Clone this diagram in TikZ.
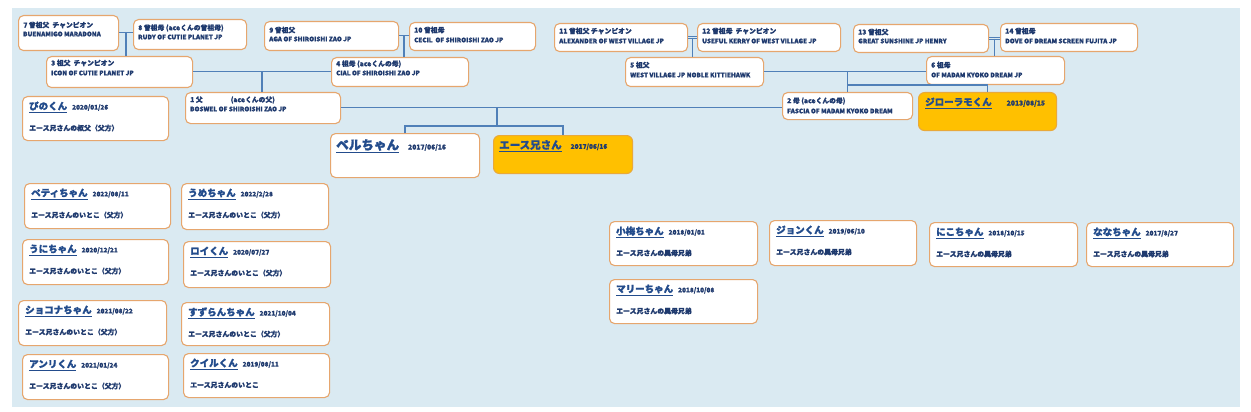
\documentclass[tikz,border=0pt]{standalone}
\usepackage{fontspec}
\setmainfont{Noto Sans CJK JP}[BoldFeatures={FakeBold=1.3}]
\usetikzlibrary{calc}
\definecolor{bgblue}{HTML}{DAEAF2}
\definecolor{boxedge}{HTML}{E6A66E}
\definecolor{linkblue}{HTML}{5080B8}
\definecolor{navy}{HTML}{1F3A6E}
\definecolor{namecol}{HTML}{234C8C}
\definecolor{gold}{HTML}{FFC000}
\definecolor{goldedge}{HTML}{E9A93A}
\tikzset{
 pbox/.style={draw=boxedge, line width=1.1pt, fill=white, rounded corners=5pt},
 gbox/.style={draw=goldedge, line width=1.1pt, fill=gold, rounded corners=6pt},
 famA/.style={anchor=west, inner sep=0pt, font=\bfseries\fontsize{6.8}{6.8}\selectfont, text=navy},
 famB/.style={anchor=west, inner sep=0pt, font=\bfseries\fontsize{6.3}{6.3}\selectfont, text=navy},
 nm/.style={anchor=west, inner sep=0pt, font=\bfseries\fontsize{9.5}{9.5}\selectfont, text=namecol},
 ds/.style={anchor=west, inner sep=0pt, font=\bfseries\fontsize{6.9}{6.9}\selectfont, text=navy},
 couple/.style={draw=linkblue, line width=0.6pt, double=bgblue, double distance=0.9pt},
 desc/.style={draw=linkblue, line width=1.2pt},
}
\newcommand\dte[1]{\hspace{5pt}\textcolor{navy}{\fontsize{6.4}{6.4}\selectfont #1}}
\newcommand\bx[6]{\node[#6, anchor=north west, inner sep=0pt, minimum width={(#4)-(#2)}, minimum height={(#5)-(#3)}] (#1) at (#2,#3) {};}
\newcommand\famnode[9]{\bx{#1}{#2}{#3}{#4}{#5}{pbox}
 \node[famA] (#1a) at (#2+5,#6) {#8};
 \node[famB] (#1b) at (#2+5,#7) {#9};}
\newcommand\kid[8]{\bx{#1}{#2}{#3}{#4}{#5}{pbox}
 \node[nm] (#1a) at (#2+7,#3+11) {\underline{#6}\dte{#7}};
 \node[ds] (#1b) at (#2+7,#3+32) {#8};}
\begin{document}
\begin{tikzpicture}[x=1pt,y=-1pt]
\useasboundingbox (0,0) rectangle (1251,412);
\fill[white] (0,0) rectangle (1251,412);
\fill[bgblue] (12,8) rectangle (1240,407);
% family boxes
\famnode{b7}{18}{15}{118}{50}{25}{34}{7 曾祖父\ \ チャンピオン}{BUENAMIGO MARADONA}
\famnode{b8}{133}{19}{246}{49}{28}{37}{8 曾祖母 (aceくんの曾祖母)}{RUDY OF CUTIE PLANET JP}
\famnode{b9}{264}{21}{398}{50}{30}{39}{9 曾祖父}{AGA OF SHIROISHI ZAO JP}
\famnode{b10}{409}{22}{535}{50}{30}{40}{10 曾祖母}{CECIL\ \ OF SHIROISHI ZAO JP}
\famnode{b3}{46}{56}{192}{87}{63}{73}{3 祖父\ \ チャンピオン}{ICON OF CUTIE PLANET JP}
\famnode{b4}{331}{57}{468}{86}{64}{73}{4 祖母 (aceくんの母)}{CIAL OF SHIROISHI ZAO JP}
\famnode{b1}{185}{92}{340}{123}{100}{109}{1 父\hspace{28pt}(aceくんの父)}{BOSWEL OF SHIROISHI ZAO JP}
\famnode{b11}{554}{23}{687}{51}{31}{41}{11 曾祖父 チャンピオン}{ALEXANDER OF WEST VILLAGE JP}
\famnode{b12}{697}{23}{840}{51}{31}{41}{12 曾祖母\ \ チャンピオン}{USEFUL KERRY OF WEST VILLAGE JP}
\famnode{b5}{625}{57}{763}{86}{65}{75}{5 祖父}{WEST VILLAGE JP NOBLE KITTIEHAWK}
\famnode{b13}{853}{24}{988}{52}{32}{41}{13 曾祖父}{GREAT SUNSHINE JP HENRY}
\famnode{b14}{1000}{23}{1137}{51}{31}{41}{14 曾祖母}{DOVE OF DREAM SCREEN FUJITA JP}
\famnode{b6}{926}{56}{1064}{84}{65}{75}{6 祖母}{OF MADAM KYOKO DREAM JP}
\famnode{b2}{782}{92}{912}{119}{101}{111}{2 母 (aceくんの母)}{FASCIA OF MADAM KYOKO DREAM}
% gold and main boxes
\bx{jiro}{918}{92}{1056}{130}{gbox}
\node[nm] (jiroa) at (925,103) {\underline{ジローラモくん}\hspace{15pt}\textcolor{navy}{\fontsize{6.8}{6.8}\selectfont 2013/08/15}};
\bx{bel}{330}{133}{479}{177}{pbox}
\node[nm, font=\bfseries\fontsize{12.6}{12.6}\selectfont] (bela) at (336,146) {\underline{ベルちゃん}\hspace{9pt}\textcolor{navy}{\fontsize{6.7}{6.7}\selectfont 2017/06/16}};
\bx{ace}{493}{135}{632}{173}{gbox}
\node[nm, font=\bfseries\fontsize{10.5}{10.5}\selectfont] (acea) at (499,146) {\underline{エース兄さん}\hspace{9pt}\textcolor{navy}{\fontsize{6.5}{6.5}\selectfont 2017/06/16}};
\kid{pino}{22}{96}{168}{140}{ぴのくん}{2020/01/26}{エース兄さんの叔父（父方）}
% cousins
\kid{k1}{24}{183}{170}{228}{ペティちゃん}{2022/08/11}{エース兄さんのいとこ（父方）}
\kid{k2}{181}{183}{328}{229}{うめちゃん}{2022/2/28}{エース兄さんのいとこ（父方）}
\kid{k3}{22}{239}{168}{284}{うにちゃん}{2020/12/21}{エース兄さんのいとこ（父方）}
\kid{k4}{183}{241}{330}{287}{ロイくん}{2020/07/27}{エース兄さんのいとこ（父方）}
\kid{k5}{18}{300}{166}{345}{ショコナちゃん}{2021/08/22}{エース兄さんのいとこ（父方）}
\kid{k6}{181}{302}{329}{345}{すずらんちゃん}{2021/10/04}{エース兄さんのいとこ（父方）}
\kid{k7}{22}{354}{168}{399}{アンリくん}{2021/01/24}{エース兄さんのいとこ（父方）}
\kid{k8}{183}{353}{329}{397}{クイルくん}{2019/08/11}{エース兄さんのいとこ}
% half siblings
\kid{h1}{609}{221}{757}{265}{小梅ちゃん}{2018/01/01}{エース兄さんの異母兄弟}
\kid{h2}{769}{220}{916}{265}{ジョンくん}{2019/06/10}{エース兄さんの異母兄弟}
\kid{h3}{609}{279}{757}{323}{マリーちゃん}{2018/10/08}{エース兄さんの異母兄弟}
\kid{h4}{929}{222}{1077}{266}{にこちゃん}{2018/10/15}{エース兄さんの異母兄弟}
\kid{h5}{1086}{222}{1233}{266}{ななちゃん}{2017/8/27}{エース兄さんの異母兄弟}
% connectors
\draw[couple] (b7.east) -- (b7.east -| b8.west);
\coordinate (m78) at ($(b7.east)!0.5!(b7.east -| b8.west)$);
\draw[desc] (m78) -- (m78 |- b3.north);
\draw[couple] (b9.east) -- (b9.east -| b10.west);
\coordinate (m910) at ($(b9.east)!0.5!(b9.east -| b10.west)$);
\draw[desc] (m910) -- (m910 |- b4.north);
\draw[couple] (b3.east) -- (b3.east -| b4.west);
\coordinate (m34) at (262,0 |- b3.east);
\draw[desc] (m34) -- (m34 |- b1.north);
\draw[couple] (b11.east) -- (b11.east -| b12.west);
\coordinate (m1112) at ($(b11.east)!0.5!(b11.east -| b12.west)$);
\draw[desc] (m1112) -- (m1112 |- b5.north);
\draw[couple] (b13.east) -- (b13.east -| b14.west);
\coordinate (m1314) at ($(b13.east)!0.5!(b13.east -| b14.west)$);
\draw[desc] (m1314) -- (m1314 |- b6.north);
\draw[couple] (b5.east) -- (b5.east -| b6.west);
\coordinate (m56) at (b2.north |- b5.east);
\draw[desc] (m56) -- (b2.north);
\coordinate (j56) at (847,85);
\draw[desc] (j56) -| (jiro.north);
\draw[couple] (b1.east) -- (b1.east -| b2.west);
\coordinate (m12) at (497,0 |- b1.east);
\coordinate (kids) at (497,126);
\draw[desc] (m12) -- (kids);
\draw[desc] (bel.north) -- (bel.north |- kids) -| (ace.north);
\end{tikzpicture}
\end{document}
